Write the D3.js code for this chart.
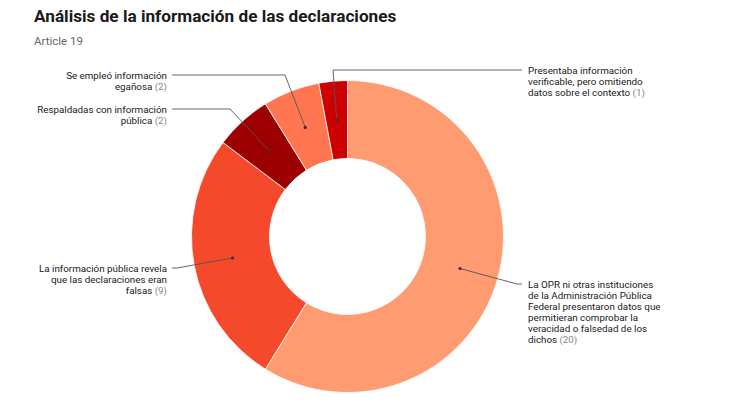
<!DOCTYPE html>
<html><head><meta charset="utf-8">
<script src="https://cdn.jsdelivr.net/npm/d3@7"></script>
<style>
body{margin:0;background:#fff;font-family:Roboto,"Noto Sans",sans-serif;}
</style></head>
<body><svg id="c" width="733" height="419"></svg>
<script>
const categories = [
  "La OPR ni otras instituciones de la Administración Pública Federal presentaron datos que permitieran comprobar la veracidad o falsedad de los dichos",
  "La información pública revela que las declaraciones eran falsas",
  "Respaldadas con información pública",
  "Se empleó información egañosa",
  "Presentaba información verificable, pero omitiendo datos sobre el contexto"
];
const values = [20, 9, 2, 2, 1];
const colors = ["#ff9b70", "#f4492b", "#9c0000", "#ff7650", "#cc0000"];
const labelLines = [
  ["La OPR ni otras instituciones","de la Administración Pública","Federal presentaron datos que","permitieran comprobar la","veracidad o falsedad de los","dichos"],
  ["La información pública revela","que las declaraciones eran","falsas"],
  ["Respaldadas con información","pública"],
  ["Se empleó información","egañosa"],
  ["Presentaba información","verificable, pero omitiendo","datos sobre el contexto"]
];
const title = "Análisis de la información de las declaraciones";
const subtitle = "Article 19";

// layout
const cx = 347.5, cy = 236.5, rOuter = 156, rInner = 78;
const labelLayout = [
  {side:"right", x:528, y:284, elbowX:517},
  {side:"left",  x:167, y:268, elbowX:177},
  {side:"left",  x:167, y:109, elbowX:230},
  {side:"left",  x:167, y:75,  elbowX:285},
  {side:"right", x:528, y:70,  elbowX:333}
];
const lineH = 11;

const svg = d3.select("#c");
svg.append("text").attr("x",34).attr("y",22).attr("font-size",17.2).attr("font-weight",700)
  .attr("fill","#1a1a1a").text(title);
svg.append("text").attr("x",34).attr("y",45).attr("font-size",11.5)
  .attr("fill","#666").text(subtitle);

const pie = d3.pie().sort(null).value(d=>d)(values);
const arc = d3.arc().innerRadius(rInner).outerRadius(rOuter);
const mid = d3.arc().innerRadius((rInner+rOuter)/2).outerRadius((rInner+rOuter)/2);
const g = svg.append("g").attr("transform",`translate(${cx},${cy})`);
g.selectAll("path.slice").data(pie).join("path").attr("class","slice")
  .attr("d",arc).attr("fill",(d,i)=>colors[i]).attr("stroke","#fff").attr("stroke-width",0.8);

// connectors
pie.forEach((d,i)=>{
  const [mx,my] = mid.centroid(d);
  const px = cx+mx, py = cy+my;
  const L = labelLayout[i];
  const endX = L.side==="right" ? L.x-6 : L.x+5;
  svg.append("polyline")
    .attr("points",`${px},${py} ${L.elbowX},${L.y} ${endX},${L.y}`)
    .attr("fill","none").attr("stroke","#555").attr("stroke-width",0.9);
  svg.append("circle").attr("cx",px).attr("cy",py).attr("r",1.6).attr("fill","#333");
  const t = svg.append("text").attr("font-size",9.8)
    .attr("text-anchor", L.side==="right" ? "start" : "end").attr("fill","#1a1a1a");
  labelLines[i].forEach((ln,j)=>{
    t.append("tspan").attr("x",L.x).attr("y",L.y+3.6+j*lineH).text(ln);
    if (j===labelLines[i].length-1){
      t.append("tspan").attr("fill","#888").text(" ("+values[i]+")");
    }
  });
});
</script></body></html>
